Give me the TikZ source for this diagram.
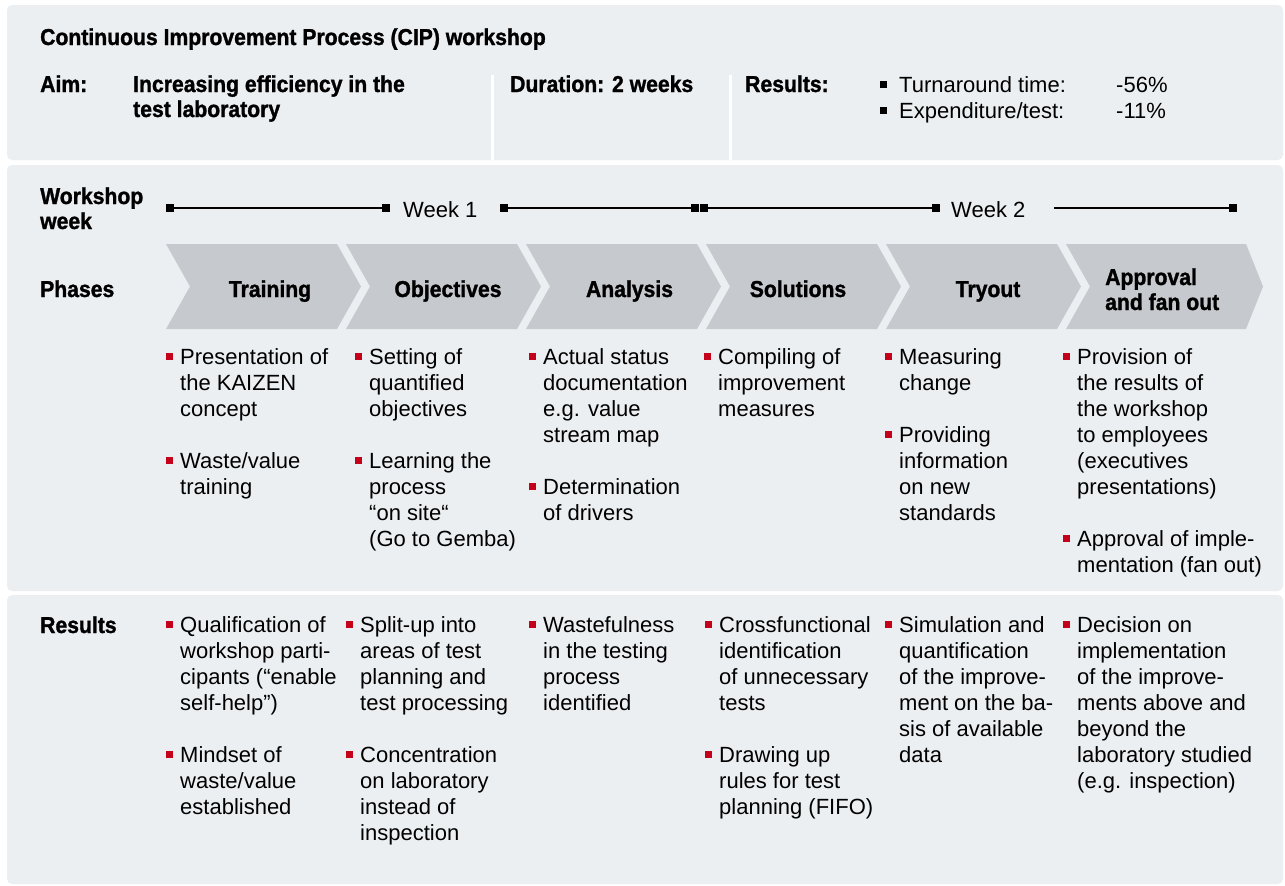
\documentclass[tikz,border=0pt]{standalone}
\usepackage{fontspec}
\setmainfont{Liberation Sans}[BoldFeatures={FakeStretch=0.92,FakeBold=1.3}]
\usetikzlibrary{calc}

\definecolor{panelgray}{RGB}{236,239,242}
\definecolor{chevgray}{RGB}{198,201,205}
\definecolor{bulletred}{RGB}{196,0,26}

\newcommand\bodysize{\fontsize{22}{26}\selectfont}
\newcommand\headsize{\fontsize{23}{25}\selectfont\bfseries}

\tikzset{
  panel/.style={fill=panelgray, rounded corners=5pt},
  chevron/.style={fill=chevgray},
  divider/.style={draw=white, line width=3pt},
  head/.style={font=\headsize, inner sep=0pt, anchor=base west},
  phase/.style={font=\headsize, inner sep=0pt, anchor=base},
  body/.style={font=\bodysize, inner sep=0pt, anchor=base west},
  item/.style={font=\bodysize, inner sep=0pt, anchor=north west, align=left},
  tick/.style={rectangle, fill=black, minimum size=7.5pt, inner sep=0pt},
  weekline/.style={line width=2.8pt},
}

% bullet item: name, x of text, baseline of first line, lines
\newcommand\listitem[4]{%
  \node[item] (#1) at (#2,#3-18.2) {\strut #4};
  \fill[bulletred] ($(#1.north west)+(-14,7.2)$) rectangle ++(7,7);
}
% black-bullet result line in the header: name, x, baseline, label, value
\newcommand\keyfigure[5]{%
  \node[body] (#1) at (#2,#3) {#4};
  \node[body] (#1v) at (1116,#3) {#5};
  \fill[black] ($(#1.base west)+(-19,-11)$) rectangle ++(7,7);
}

\begin{document}
\begin{tikzpicture}[x=1pt,y=-1pt]
\useasboundingbox[fill=white] (0,0) rectangle (1285,886);

% background panels
\fill[panel] (7,5) rectangle (1283,160);
\fill[panel] (7,165) rectangle (1283,591);
\fill[panel] (7,595) rectangle (1283,884);

% header column separators
\draw[divider] (492,75) -- (492,160);
\draw[divider] (730,75) -- (730,160);

% header
\node[head] (title) at (40,45) {Continuous Improvement Process (CIP) workshop};
\node[head] (aim) at (40,92) {Aim:};
\node[head] (aimtext1) at (133,92) {Increasing efficiency in the};
\node[head] (aimtext2) at (133,117) {test laboratory};
\node[head] (duration) at (510,92) {Duration: 2 weeks};
\node[head] (results) at (745,92) {Results:};
\keyfigure{turnaround}{899}{92}{Turnaround time:}{-56\%}
\keyfigure{expenditure}{899}{118}{Expenditure/test:}{-11\%}

% row labels
\node[head] (wsweek1) at (40,204) {Workshop};
\node[head] (wsweek2) at (40,229) {week};
\node[head] (phases) at (40,297) {Phases};
\node[head] (resrow) at (40,633) {Results};

% week time line
\node[tick] (w1a) at (170,208) {};
\node[tick] (w1b) at (386,208) {};
\node[tick] (w1c) at (504,208) {};
\node[tick] (w1d) at (695,208) {};
\node[tick] (w2a) at (704,208) {};
\node[tick] (w2b) at (936,208) {};
\coordinate (w2c) at (1054,208);
\node[tick] (w2d) at (1233,208) {};
\draw[weekline] (w1a) -- (w1b);
\draw[weekline] (w1c) -- (w1d);
\draw[weekline] (w2a) -- (w2b);
\draw[weekline] (w2c) -- (w2d);
\node[body] (week1) at (403,217) {Week 1};
\node[body] (week2) at (951,217) {Week 2};

% phase chevrons
\foreach \L in {166,346,526,706,886}{
  \fill[chevron] (\L,244) -- ++(171,0) -- ++(24,42.5) -- ++(-24,42.5)
    -- ++(-171,0) -- ++(24,-42.5) -- cycle;
}
\fill[chevron] (1066,244) -- (1246,244) -- (1263,286.5) -- (1246,329)
  -- (1066,329) -- (1090,286.5) -- cycle;

\node[phase] (training) at (270,297) {Training};
\node[phase] (objectives) at (448,297) {Objectives};
\node[phase] (analysis) at (629.5,297) {Analysis};
\node[phase] (solutions) at (798,297) {Solutions};
\node[phase] (tryout) at (988,297) {Tryout};
\node[head] (approval1) at (1105,285) {Approval};
\node[head] (approval2) at (1105,310) {and fan out};

% phase contents
\listitem{pa1}{180}{364}{Presentation of\\the KAIZEN\\concept}
\listitem{pa2}{180}{468}{Waste/value\\training}
\listitem{pb1}{369}{364}{Setting of\\quantified\\objectives}
\listitem{pb2}{369}{468}{Learning the\\process\\“on site“\\(Go to Gemba)}
\listitem{pc1}{543}{364}{Actual status\\documentation\\e.g. value\\stream map}
\listitem{pc2}{543}{494}{Determination\\of drivers}
\listitem{pd1}{718}{364}{Compiling of\\improvement\\measures}
\listitem{pe1}{899}{364}{Measuring\\change}
\listitem{pe2}{899}{442}{Providing\\information\\on new\\standards}
\listitem{pf1}{1077}{364}{Provision of\\the results of\\the workshop\\to employees\\(executives\\presentations)}
\listitem{pf2}{1077}{546}{Approval of imple-\\mentation (fan out)}

% results contents
\listitem{ra1}{180}{632}{Qualification of\\workshop parti-\\cipants (“enable\\self-help”)}
\listitem{ra2}{180}{762}{Mindset of\\waste/value\\established}
\listitem{rb1}{360}{632}{Split-up into\\areas of test\\planning and\\test processing}
\listitem{rb2}{360}{762}{Concentration\\on laboratory\\instead of\\inspection}
\listitem{rc1}{543}{632}{Wastefulness\\in the testing\\process\\identified}
\listitem{rd1}{719}{632}{Crossfunctional\\identification\\of unnecessary\\tests}
\listitem{rd2}{719}{762}{Drawing up\\rules for test\\planning (FIFO)}
\listitem{re1}{899}{632}{Simulation and\\quantification\\of the improve-\\ment on the ba-\\sis of available\\data}
\listitem{rf1}{1077}{632}{Decision on\\implementation\\of the improve-\\ments above and\\beyond the\\laboratory studied\\(e.g. inspection)}
\end{tikzpicture}
\end{document}
